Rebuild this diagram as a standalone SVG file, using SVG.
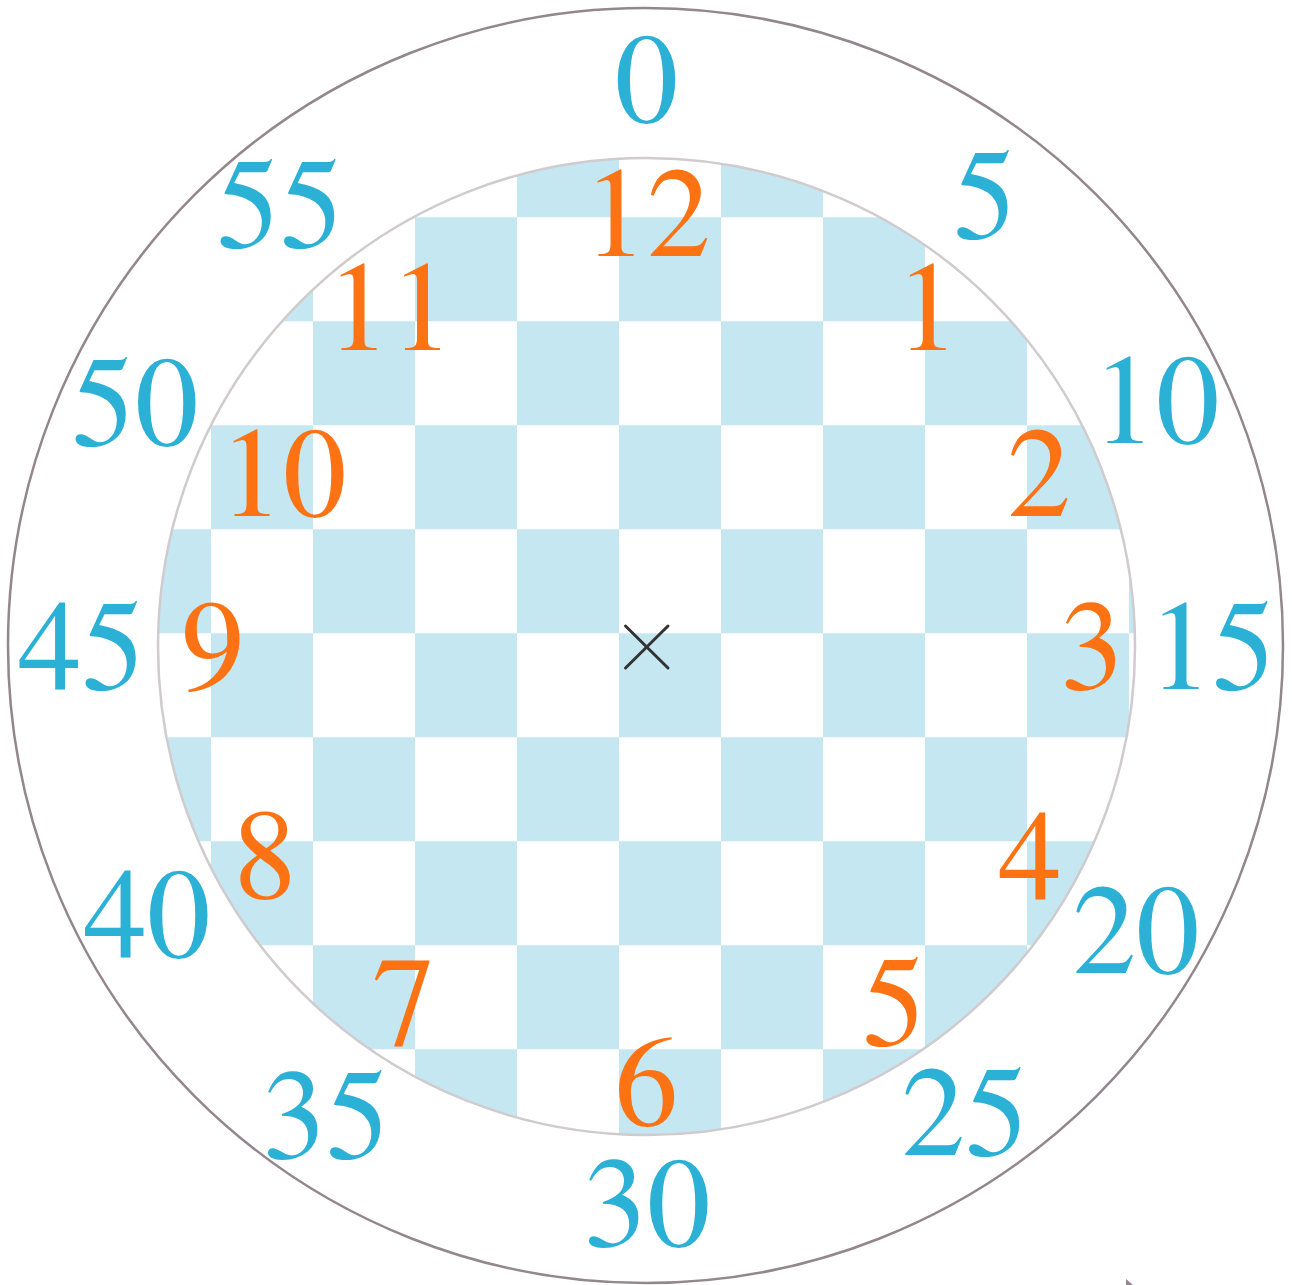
<svg xmlns="http://www.w3.org/2000/svg" width="1292" height="1285" viewBox="0 0 1292 1285">
<style>
.cell{fill:#c5e7f1}
.min{fill:#2bb0d6}
.hr{fill:#fd7314}
.lbl{font-family:"FreeSerif","Nimbus Roman","TeX Gyre Termes","Latin Modern Roman",serif;font-size:127px;text-anchor:middle}
</style>
<defs>
<clipPath id="inner"><circle cx="646.5" cy="646.5" r="488.5"/></clipPath>
</defs>
<rect width="1292" height="1285" fill="#ffffff"/>
<g id="board" clip-path="url(#inner)">
<g id="row0"><rect class="cell" x="109" y="113.3" width="102" height="104"/><rect class="cell" x="313" y="113.3" width="102" height="104"/><rect class="cell" x="517" y="113.3" width="102" height="104"/><rect class="cell" x="721" y="113.3" width="102" height="104"/><rect class="cell" x="925" y="113.3" width="102" height="104"/><rect class="cell" x="1129" y="113.3" width="102" height="104"/></g>
<g id="row1"><rect class="cell" x="211" y="217.3" width="102" height="104"/><rect class="cell" x="415" y="217.3" width="102" height="104"/><rect class="cell" x="619" y="217.3" width="102" height="104"/><rect class="cell" x="823" y="217.3" width="102" height="104"/><rect class="cell" x="1027" y="217.3" width="102" height="104"/></g>
<g id="row2"><rect class="cell" x="109" y="321.3" width="102" height="104"/><rect class="cell" x="313" y="321.3" width="102" height="104"/><rect class="cell" x="517" y="321.3" width="102" height="104"/><rect class="cell" x="721" y="321.3" width="102" height="104"/><rect class="cell" x="925" y="321.3" width="102" height="104"/><rect class="cell" x="1129" y="321.3" width="102" height="104"/></g>
<g id="row3"><rect class="cell" x="211" y="425.3" width="102" height="104"/><rect class="cell" x="415" y="425.3" width="102" height="104"/><rect class="cell" x="619" y="425.3" width="102" height="104"/><rect class="cell" x="823" y="425.3" width="102" height="104"/><rect class="cell" x="1027" y="425.3" width="102" height="104"/></g>
<g id="row4"><rect class="cell" x="109" y="529.3" width="102" height="104"/><rect class="cell" x="313" y="529.3" width="102" height="104"/><rect class="cell" x="517" y="529.3" width="102" height="104"/><rect class="cell" x="721" y="529.3" width="102" height="104"/><rect class="cell" x="925" y="529.3" width="102" height="104"/><rect class="cell" x="1129" y="529.3" width="102" height="104"/></g>
<g id="row5"><rect class="cell" x="211" y="633.3" width="102" height="104"/><rect class="cell" x="415" y="633.3" width="102" height="104"/><rect class="cell" x="619" y="633.3" width="102" height="104"/><rect class="cell" x="823" y="633.3" width="102" height="104"/><rect class="cell" x="1027" y="633.3" width="102" height="104"/></g>
<g id="row6"><rect class="cell" x="109" y="737.3" width="102" height="104"/><rect class="cell" x="313" y="737.3" width="102" height="104"/><rect class="cell" x="517" y="737.3" width="102" height="104"/><rect class="cell" x="721" y="737.3" width="102" height="104"/><rect class="cell" x="925" y="737.3" width="102" height="104"/><rect class="cell" x="1129" y="737.3" width="102" height="104"/></g>
<g id="row7"><rect class="cell" x="211" y="841.3" width="102" height="104"/><rect class="cell" x="415" y="841.3" width="102" height="104"/><rect class="cell" x="619" y="841.3" width="102" height="104"/><rect class="cell" x="823" y="841.3" width="102" height="104"/><rect class="cell" x="1027" y="841.3" width="102" height="104"/></g>
<g id="row8"><rect class="cell" x="109" y="945.3" width="102" height="104"/><rect class="cell" x="313" y="945.3" width="102" height="104"/><rect class="cell" x="517" y="945.3" width="102" height="104"/><rect class="cell" x="721" y="945.3" width="102" height="104"/><rect class="cell" x="925" y="945.3" width="102" height="104"/><rect class="cell" x="1129" y="945.3" width="102" height="104"/></g>
<g id="row9"><rect class="cell" x="211" y="1049.3" width="102" height="104"/><rect class="cell" x="415" y="1049.3" width="102" height="104"/><rect class="cell" x="619" y="1049.3" width="102" height="104"/><rect class="cell" x="823" y="1049.3" width="102" height="104"/><rect class="cell" x="1027" y="1049.3" width="102" height="104"/></g>
</g>
<g id="circles" fill="none">
<circle id="inner-circle" cx="646.5" cy="646.5" r="488.5" stroke="#d0cbce" stroke-width="2.5"/>
<circle id="outer-circle" cx="645.5" cy="645.5" r="637.5" stroke="#93868c" stroke-width="2.5"/>
</g>
<g id="center-mark" stroke="#333333" stroke-width="3" stroke-linecap="round">
<line x1="625.5" y1="626" x2="668" y2="668"/>
<line x1="625.5" y1="668" x2="668" y2="626"/>
</g>
<g id="minutes">
<text class="lbl min" x="646.5" y="122">0</text>
<text class="lbl min" x="985" y="238">5</text>
<text class="lbl min" x="1156" y="443">10</text>
<text class="lbl min" x="1212" y="689">15</text>
<text class="lbl min" x="1136" y="973">20</text>
<text class="lbl min" x="965" y="1155">25</text>
<text class="lbl min" x="647" y="1246">30</text>
<text class="lbl min" x="326" y="1158">35</text>
<text class="lbl min" x="147" y="957">40</text>
<text class="lbl min" x="81.5" y="689">45</text>
<text class="lbl min" x="135" y="445">50</text>
<text class="lbl min" x="280" y="247">55</text>
</g>
<g id="hours">
<text class="lbl hr" x="647" y="256">12</text>
<text class="lbl hr" x="927.5" y="350">1</text>
<text class="lbl hr" x="1039" y="516">2</text>
<text class="lbl hr" x="1092" y="689">3</text>
<text class="lbl hr" x="1030" y="899">4</text>
<text class="lbl hr" x="894" y="1045">5</text>
<text class="lbl hr" x="646.5" y="1125">6</text>
<text class="lbl hr" x="404" y="1045">7</text>
<text class="lbl hr" x="265" y="898">8</text>
<text class="lbl hr" x="213" y="689">9</text>
<text class="lbl hr" x="283" y="516">10</text>
<text class="lbl hr" x="390" y="350">11</text>
</g>
<polygon id="corner-mark" points="1126,1279 1133,1285 1126,1285" fill="#93868c"/>
</svg>
